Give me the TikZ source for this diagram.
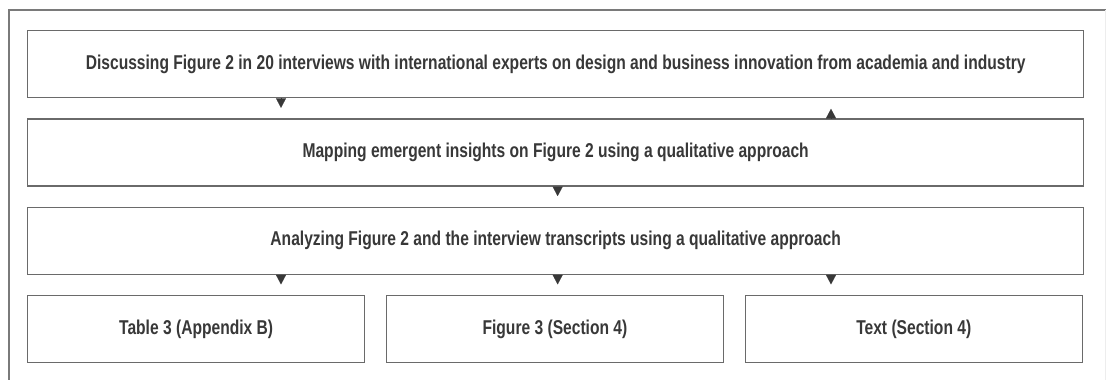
\documentclass[tikz,border=0pt]{standalone}
\usepackage{fontspec}
\setmainfont[FakeStretch=0.78]{Liberation Sans}
\usepackage{tikz}
\usetikzlibrary{positioning,arrows.meta}

\definecolor{framegray}{HTML}{7A7A7A}
\definecolor{boxgray}{HTML}{6A6A6A}
\definecolor{inkgray}{HTML}{383838}

\begin{document}
\begin{tikzpicture}
[
    x = 1pt, y = -1pt,
    stage/.style = {draw = boxgray, line width = 1.3pt, text = inkgray, inner sep = 0pt,
                    minimum width = 1056pt, minimum height = 67pt,
                    font = \bfseries\fontsize{20}{23}\selectfont},
    outcome/.style = {stage, minimum width = 337pt},
    pointer/.style = {draw = inkgray, line width = 0.1pt, -{Triangle[length = 9.5pt, width = 10pt]}},
]
\useasboundingbox (0,0) rectangle (1106,380);
\draw[framegray, line width = 1.2pt] (9,380) -- (9,10) -- (1106,10);
\draw[black!7, line width = 1pt] (1105,10) -- (1105,380);

\node[stage, anchor = north west] (discuss) at (27,30)
    {Discussing Figure 2 in 20 interviews with international experts on design and business innovation from academia and industry};
\node[stage, below = 20pt of discuss] (mapping)
    {Mapping emergent insights on Figure 2 using a qualitative approach};
\node[stage, below = 20pt of mapping] (analyze)
    {Analyzing Figure 2 and the interview transcripts using a qualitative approach};
\node[outcome, below right = 20pt and 0pt of analyze.south west, anchor = north west] (table)
    {Table 3 (Appendix B)};
\node[outcome, right = 20.5pt of table] (figure) {Figure 3 (Section 4)};
\node[outcome, right = 20.5pt of figure] (text) {Text (Section 4)};

\draw[pointer] ([xshift = 254pt]discuss.south west) -- ++(0,9.5);
\draw[pointer] ([xshift = 804pt]mapping.north west) -- ++(0,-9.5);
\draw[pointer] ([xshift = 2pt]mapping.south) -- ++(0,9.5);
\draw[pointer] ([xshift = 254pt]analyze.south west) -- ++(0,9.5);
\draw[pointer] ([xshift = 2pt]analyze.south) -- ++(0,9.5);
\draw[pointer] ([xshift = 804pt]analyze.south west) -- ++(0,9.5);
\end{tikzpicture}
\end{document}
